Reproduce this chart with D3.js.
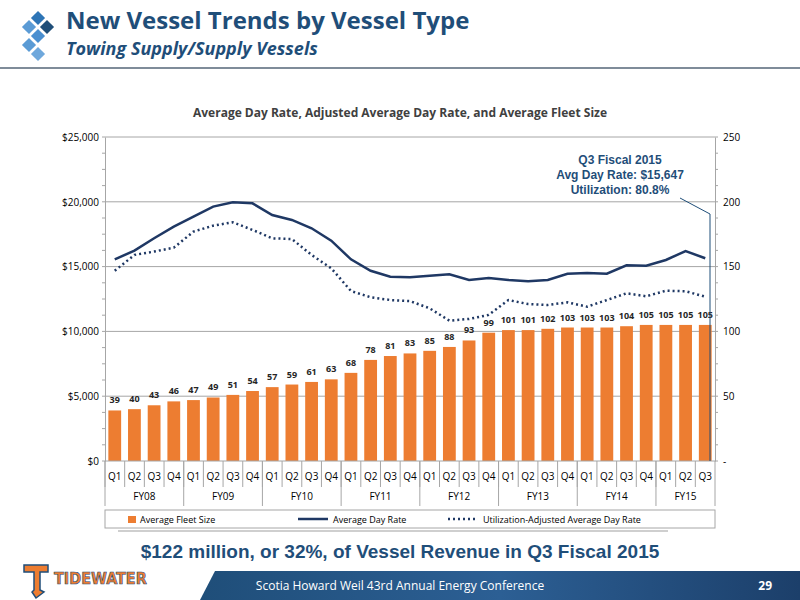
<!DOCTYPE html>
<html><head><meta charset="utf-8">
<script src="https://cdn.jsdelivr.net/npm/d3@7"></script>
<style>body{margin:0;background:#fff}svg{display:block}</style>
</head><body><svg id="c" width="800" height="600"></svg>
<script>
const years=["FY08","FY09","FY10","FY11","FY12","FY13","FY14","FY15"];
const quarters=["Q1","Q2","Q3","Q4"];
const fleet=[39,40,43,46,47,49,51,54,57,59,61,63,68,78,81,83,85,88,93,99,101,101,102,103,103,103,104,105,105,105,105];
const dayRate=[15560,16230,17190,18090,18860,19630,19960,19880,18980,18600,17960,17000,15560,14680,14220,14170,14300,14400,13970,14120,13970,13870,13970,14450,14510,14450,15100,15070,15510,16200,15647];
const adjRate=[14680,15900,16160,16460,17700,18160,18420,17830,17180,17130,15900,14870,13120,12630,12420,12340,11780,10830,10960,11270,12420,12110,12040,12240,11910,12420,12940,12710,13140,13100,12680];
const leftTicks=[0,5000,10000,15000,20000,25000];
const rightTicks=[0,50,100,150,200,250];

const cats=[];years.forEach(y=>quarters.forEach(q=>{if(cats.length<31)cats.push(y+"-"+q);}));
const svg=d3.select("#c");
const navy="#1f3864", titleBlue="#1f4e79";
const icon=svg.append("g");
[[38,18,"#2e75b6"],[47,27,"#1f4e79"],[38,36,"#4a8fd0"],[29,27,"#5b9bd5"],[29,45,"#5b9bd5"],[38,54,"#6fa8dc"]].forEach(d=>{
 icon.append("rect").attr("x",d[0]-5).attr("y",d[1]-5).attr("width",10).attr("height",10).attr("fill",d[2]).attr("transform",`rotate(45 ${d[0]} ${d[1]})`);});
svg.append("text").attr("x",66).attr("y",29).text("New Vessel Trends by Vessel Type").attr("font-family","Open Sans").attr("font-weight","bold").attr("font-size",24).attr("fill",titleBlue);
svg.append("text").attr("x",66).attr("y",55).text("Towing Supply/Supply Vessels").attr("font-family","Open Sans").attr("font-weight","bold").attr("font-style","italic").attr("font-size",18).attr("fill",titleBlue);
svg.append("line").attr("x1",0).attr("x2",800).attr("y1",68).attr("y2",68).attr("stroke","#7f8c99").attr("stroke-width",2);

const L=105,R=715,T=137,B=461;
const x=d3.scaleBand().domain(cats).range([L,R]).paddingInner(0.35).paddingOuter(0.17);
const yL=d3.scaleLinear().domain([0,25000]).range([B,T]);
const yR=d3.scaleLinear().domain([0,250]).range([B,T]);
svg.append("text").attr("x",400).attr("y",117).attr("text-anchor","middle").text("Average Day Rate, Adjusted Average Day Rate, and Average Fleet Size").attr("font-family","Open Sans").attr("font-weight","bold").attr("font-size",12).attr("fill","#404040");
svg.append("g").selectAll("line").data(leftTicks.slice(1)).join("line").attr("x1",L).attr("x2",R).attr("y1",d=>yL(d)).attr("y2",d=>yL(d)).attr("stroke","#a6a6a6");
const fmt=d=>"$"+d3.format(",")(d);
const ax=svg.append("g").attr("transform",`translate(${L},0)`).call(d3.axisLeft(yL).tickValues(leftTicks).tickFormat(fmt).tickSize(0).tickPadding(6));
const axr=svg.append("g").attr("transform",`translate(${R},0)`).call(d3.axisRight(yR).tickValues(rightTicks).tickFormat(d=>d===0?"-":d).tickSize(0).tickPadding(8));
[ax,axr].forEach(a=>{a.select(".domain").attr("stroke","#a6a6a6");a.selectAll("text").attr("font-family","Open Sans").attr("font-size",10).attr("fill","#000");});
svg.append("g").selectAll("line").data(d3.range(0,25001,1250)).join("line").attr("x1",L-3).attr("x2",L).attr("y1",d=>yL(d)).attr("y2",d=>yL(d)).attr("stroke","#a6a6a6");
svg.append("g").selectAll("line").data(d3.range(0,251,12.5)).join("line").attr("x1",R).attr("x2",R+3).attr("y1",d=>yR(d)).attr("y2",d=>yR(d)).attr("stroke","#a6a6a6");
svg.append("g").selectAll("rect").data(fleet).join("rect").attr("x",(d,i)=>x(cats[i])).attr("width",x.bandwidth()).attr("y",d=>yR(d)).attr("height",d=>B-yR(d)).attr("fill","#ed7d31");
svg.append("g").selectAll("text").data(fleet).join("text").attr("x",(d,i)=>x(cats[i])+x.bandwidth()/2).attr("y",d=>yR(d)-7).attr("text-anchor","middle").text(d=>d).attr("font-family","Open Sans").attr("font-weight","bold").attr("font-size",9).attr("fill","#262626");
const cx=i=>x(cats[i])+x.bandwidth()/2;
svg.append("path").datum(dayRate).attr("d",d3.line().x((d,i)=>cx(i)).y(d=>yL(d))).attr("fill","none").attr("stroke",navy).attr("stroke-width",2.5);
svg.append("path").datum(adjRate).attr("d",d3.line().x((d,i)=>cx(i)).y(d=>yL(d))).attr("fill","none").attr("stroke",navy).attr("stroke-width",2.5).attr("stroke-dasharray","2,3");
svg.append("line").attr("x1",L).attr("x2",R).attr("y1",B).attr("y2",B).attr("stroke","#a6a6a6");
cats.forEach((c,i)=>{
 const xl=L+(R-L)*i/31;
 svg.append("line").attr("x1",xl).attr("x2",xl).attr("y1",B).attr("y2",B+26).attr("stroke","#a6a6a6");
 svg.append("text").attr("x",L+(R-L)*(i+0.5)/31).attr("y",B+19).attr("text-anchor","middle").text(c.split("-")[1]).attr("font-family","Open Sans").attr("font-size",10).attr("fill","#000");
});
years.forEach((y,j)=>{
 const s=j*4,e=Math.min(31,s+4);
 const xl=L+(R-L)*s/31;
 svg.append("line").attr("x1",xl).attr("x2",xl).attr("y1",B).attr("y2",B+45).attr("stroke","#a6a6a6");
 svg.append("text").attr("x",L+(R-L)*(s+e)/2/31).attr("y",B+39).attr("text-anchor","middle").text(y).attr("font-family","Open Sans").attr("font-size",10).attr("fill","#000");
});
svg.append("line").attr("x1",R).attr("x2",R).attr("y1",B).attr("y2",B+45).attr("stroke","#a6a6a6");
const ag=svg.append("g").attr("font-family","Liberation Sans").attr("font-weight","bold").attr("font-size",12).attr("fill",titleBlue).attr("text-anchor","middle");
["Q3 Fiscal 2015","Avg Day Rate: $15,647","Utilization: 80.8%"].forEach((t,i)=>ag.append("text").attr("x",620).attr("y",164+i*15).text(t));
svg.append("polyline").attr("points",`680,198 710,214 710,${B}`).attr("fill","none").attr("stroke","#1f4e79").attr("stroke-width",1);
svg.append("rect").attr("x",105).attr("y",510).attr("width",610).attr("height",18).attr("fill","#fff").attr("stroke","#a6a6a6");
const lg=svg.append("g").attr("font-family","Open Sans").attr("font-size",9).attr("fill","#000");
lg.append("rect").attr("x",128).attr("y",516).attr("width",8).attr("height",7).attr("fill","#ed7d31");
lg.append("text").attr("x",140).attr("y",523).text("Average Fleet Size");
lg.append("line").attr("x1",298).attr("x2",328).attr("y1",519).attr("y2",519).attr("stroke",navy).attr("stroke-width",2.5);
lg.append("text").attr("x",333).attr("y",523).text("Average Day Rate");
lg.append("line").attr("x1",448).attr("x2",478).attr("y1",519).attr("y2",519).attr("stroke",navy).attr("stroke-width",2.5).attr("stroke-dasharray","2,3");
lg.append("text").attr("x",483).attr("y",523).text("Utilization-Adjusted Average Day Rate");
svg.append("line").attr("x1",118).attr("x2",668).attr("y1",531).attr("y2",531).attr("stroke","#bfbfbf").attr("stroke-width",1.5);
svg.append("text").attr("x",400).attr("y",558).attr("text-anchor","middle").text("$122 million, or 32%, of Vessel Revenue in Q3 Fiscal 2015").attr("font-family","Liberation Sans").attr("font-weight","bold").attr("font-size",19).attr("fill",titleBlue);
const defs=svg.append("defs");
const gr=defs.append("linearGradient").attr("id","fg");
gr.append("stop").attr("offset","0").attr("stop-color","#1f4e79");
gr.append("stop").attr("offset","0.5").attr("stop-color","#2c5f94");
gr.append("stop").attr("offset","1").attr("stop-color","#1c3f6a");
svg.append("path").attr("d","M200,600 L215,571 L800,571 L800,600 Z").attr("fill","url(#fg)");
svg.append("text").attr("x",400).attr("y",590).attr("text-anchor","middle").text("Scotia Howard Weil 43rd Annual Energy Conference").attr("font-family","Open Sans").attr("font-size",12).attr("fill","#fff");
svg.append("text").attr("x",772).attr("y",590).attr("text-anchor","end").text("29").attr("font-family","Open Sans").attr("font-weight","bold").attr("font-size",12).attr("fill","#fff");
svg.append("path").attr("d","M24,565 L48,565 L48,572 L40,572 L40,590 L44,592 L36,598 L32,592 L34,590 L34,572 L24,572 Z").attr("fill","#ed7d31").attr("stroke","#1f4e79").attr("stroke-width",1.5);
svg.append("text").attr("x",54).attr("y",584).text("TIDEWATER").attr("font-family","DejaVu Sans Condensed").attr("font-weight","bold").attr("font-size",16).attr("fill","#ed7d31").attr("stroke","#1f4e79").attr("stroke-width",0.6);
</script></body></html>
